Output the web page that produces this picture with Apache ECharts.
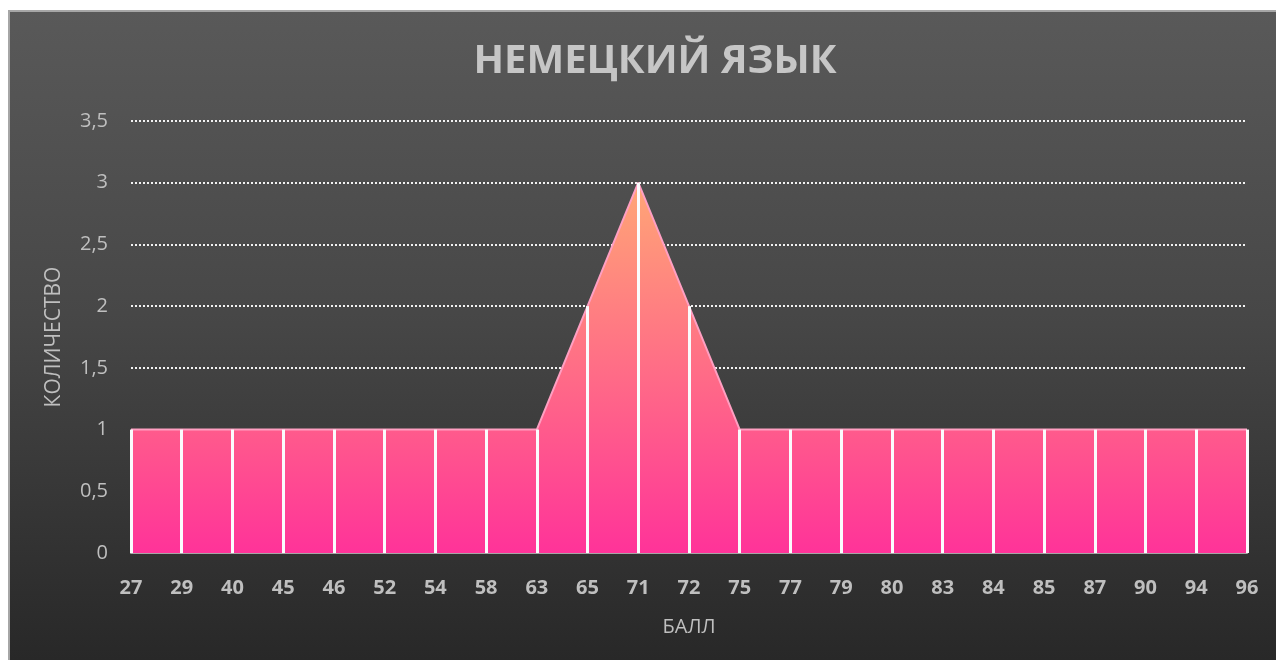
<!DOCTYPE html>
<html>
<head>
<meta charset="utf-8">
<script src="https://cdn.jsdelivr.net/npm/echarts@6/dist/echarts.min.js"></script>
<style>
    html, body { margin: 0; padding: 0; background: #fff; overflow: hidden; }
    #frame {
        position: absolute; left: 8px; top: 10px; width: 1290px; height: 670px;
        border-top: 2px solid #a6a6a6; border-left: 2px solid #a6a6a6;
        background: linear-gradient(to bottom, #595959 0%, #474747 45%, #262626 100%);
    }
    #main { position: absolute; left: 0; top: 0; width: 1276px; height: 660px; }
</style>
</head>
<body>
<div id="frame"></div>
<div id="main"></div>
<script>
// scores and how many students got each one
let scores = ["27", "29", "40", "45", "46", "52", "54", "58", "63", "65", "71", "72",
    "75", "77", "79", "80", "83", "84", "85", "87", "90", "94", "96"]
let counts = [1, 1, 1, 1, 1, 1, 1, 1, 1, 2, 3, 2, 1, 1, 1, 1, 1, 1, 1, 1, 1, 1, 1]

let yTicks = { min: 0, max: 3.5, step: 0.5 }

let labelColor = '#bfbfbf'
let font = '"Open Sans", "Noto Sans", sans-serif'

var myChart = echarts.init(document.getElementById('main'), null, { renderer: 'canvas' })

// white drop lines from the axis up to each point
let dropLines = scores.map((s, i) => [{ coord: [s, 0] }, { coord: [s, counts[i]] }])

var option = {
    backgroundColor: 'transparent',
    textStyle: { fontFamily: font },
    title: {
        text: 'НЕМЕЦКИЙ ЯЗЫК',
        left: 650,
        textAlign: 'center',
        top: 37,
        textStyle: { color: '#c6c6c6', fontSize: 40, fontWeight: 'bold', fontFamily: font }
    },
    grid: { left: 131, right: 29, top: 121, bottom: 107 },
    xAxis: {
        type: 'category',
        data: scores,
        boundaryGap: false,
        name: 'БАЛЛ',
        nameLocation: 'middle',
        nameGap: 64,
        nameTextStyle: { color: labelColor, fontSize: 20 },
        axisLine: { lineStyle: { color: '#a6a6a6', width: 2 } },
        axisTick: { show: false },
        axisLabel: { color: labelColor, fontSize: 20, fontWeight: 'bold', margin: 25 },
        splitLine: { show: false }
    },
    yAxis: {
        type: 'value',
        min: yTicks.min,
        max: yTicks.max,
        interval: yTicks.step,
        name: 'КОЛИЧЕСТВО',
        nameLocation: 'middle',
        nameGap: 66,
        nameTextStyle: { color: labelColor, fontSize: 21 },
        axisLine: { show: false },
        axisTick: { show: false },
        axisLabel: {
            color: labelColor, fontSize: 20, margin: 23,
            formatter: v => String(v).replace('.', ',')
        },
        splitLine: { lineStyle: { color: '#f2f2f2', width: 2, type: [2, 2] } }
    },
    series: [
        {
            type: 'line',
            data: counts,
            symbol: 'none',
            lineStyle: { color: '#ff9fc2', width: 2 },
            areaStyle: {
                opacity: 1,
                color: new echarts.graphic.LinearGradient(0, 0, 0, 1, [
                    { offset: 0, color: '#ffa676' },
                    { offset: 0.67, color: '#ff5a8c' },
                    { offset: 1, color: '#ff3399' }
                ])
            },
            markLine: {
                silent: true,
                symbol: 'none',
                label: { show: false },
                lineStyle: { color: '#fafbfd', width: 3, type: 'solid' },
                data: dropLines
            }
        }
    ]
}

myChart.setOption(option)
</script>
</body>
</html>
